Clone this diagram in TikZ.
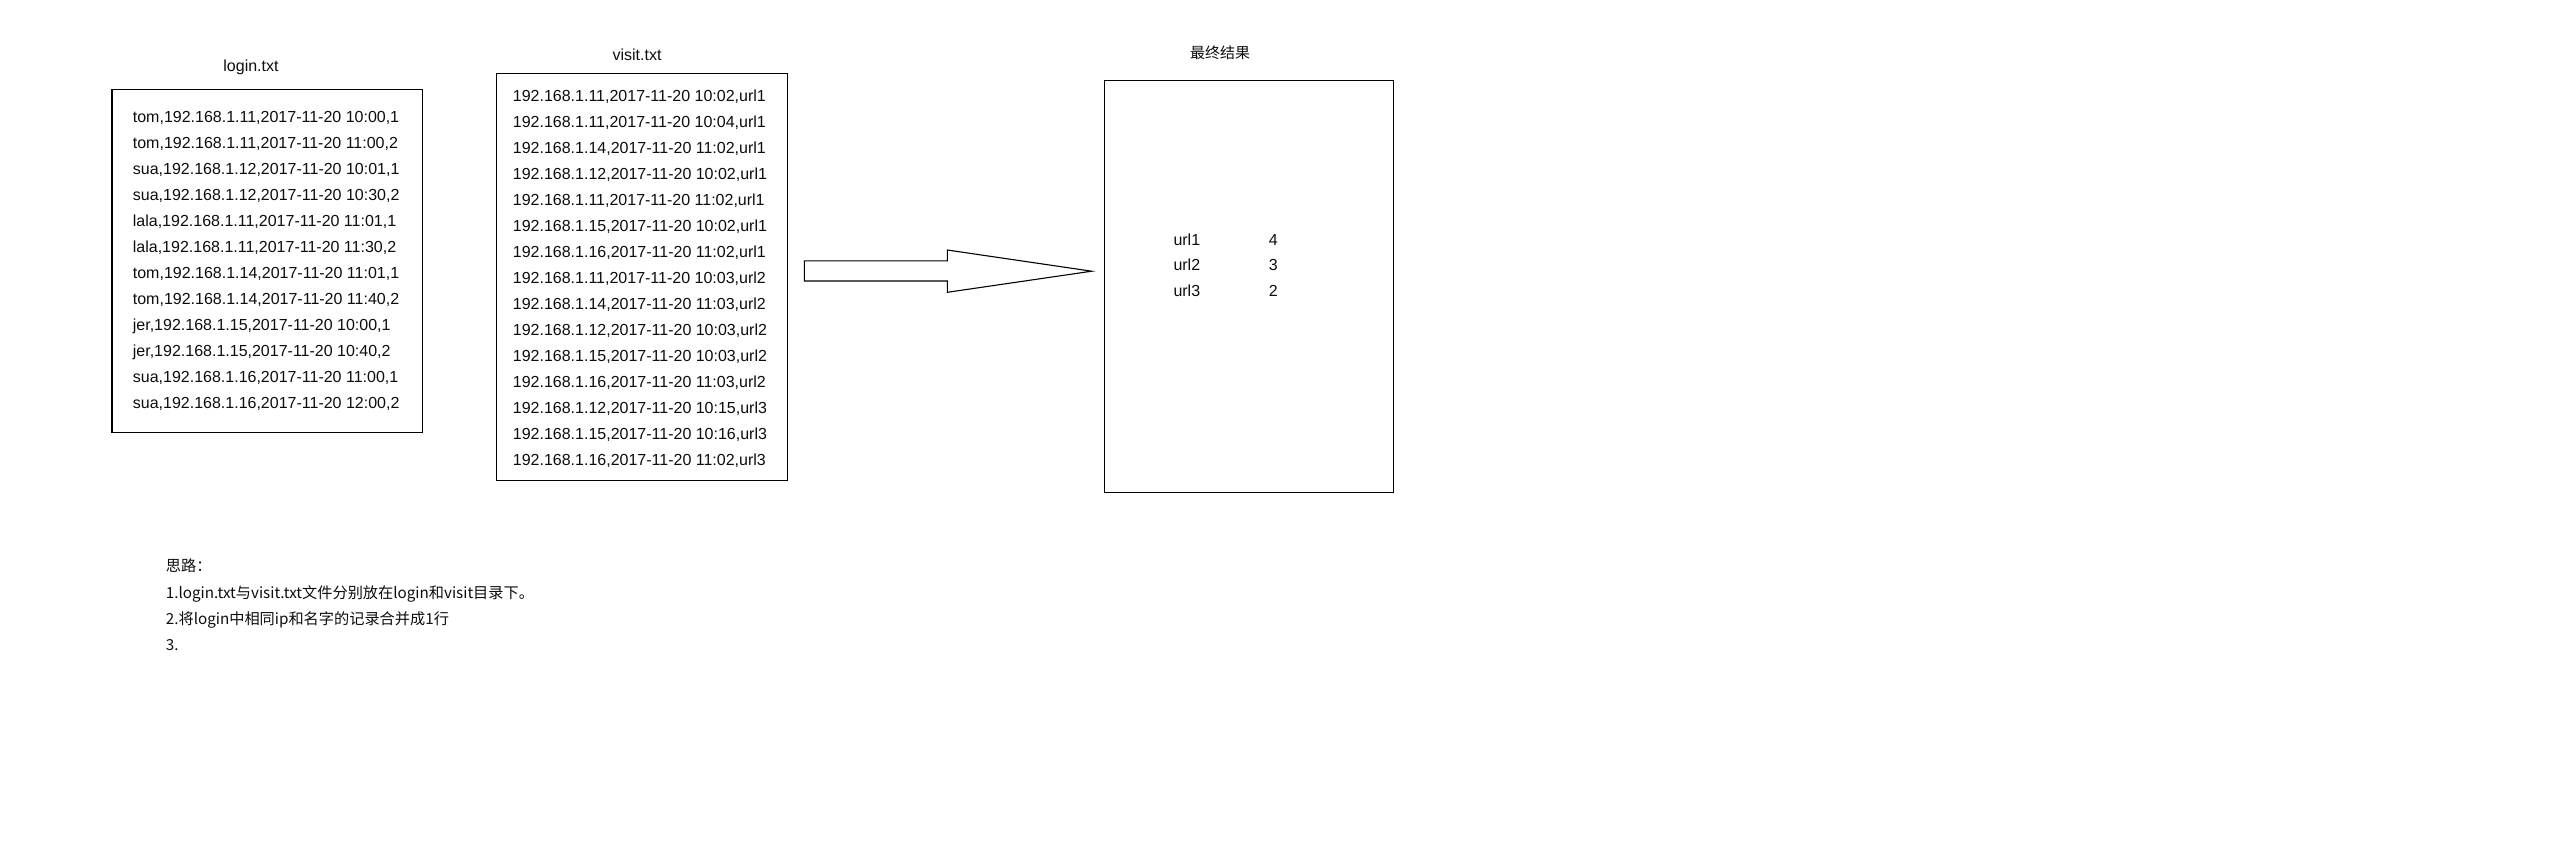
\documentclass[tikz,border=0pt]{standalone}
\usepackage{fontspec}
\setmainfont{Liberation Sans}
\newfontfamily\cjk{Noto Sans CJK SC}
\usepackage{xcolor}
\usepackage{tikz}

\begin{document}
\begin{tikzpicture}[x  = {(1pt,0pt)},
                    y  = {(0pt,-1pt)},
                    scale = 1,
                    color = {black}]

  \useasboundingbox (0, 0) rectangle (2556, 855);


  % DEF POINTS
  \coordinate (v0_login) at (112, 89.3);
  \coordinate (v1_login) at (422.3, 432.3);
  \coordinate (v0_visit) at (496.5, 73.3);
  \coordinate (v1_visit) at (787.3, 480.3);
  \coordinate (v0_result) at (1104.3, 80.7);
  \coordinate (v1_result) at (1393.3, 492.3);

  \coordinate (v0_arrow) at (804.3, 260.8);
  \coordinate (v1_arrow) at (947.3, 260.8);
  \coordinate (v2_arrow) at (947.3, 250);
  \coordinate (v3_arrow) at (1091.7, 271.2);
  \coordinate (v4_arrow) at (947.3, 292.3);
  \coordinate (v5_arrow) at (947.3, 281);
  \coordinate (v6_arrow) at (804.3, 281);


  % EDGES STYLE
  \definecolor{edgecolor_box}{rgb}{ 0,0,0 }
  \definecolor{textcolor_box}{rgb}{ 0.05,0.05,0.05 }
  \tikzstyle{boxstyle} = [fill=white, draw=edgecolor_box, line width=1.1pt, line join=miter]
  \tikzstyle{linestyle} = [anchor=west, inner sep=0pt, text=textcolor_box, text height=11.5pt, text depth=0pt, font=\fontsize{16}{19}\selectfont]
  \tikzstyle{titlestyle} = [anchor=center, inner sep=0pt, text=textcolor_box, text height=11.5pt, text depth=0pt, font=\fontsize{16}{19}\selectfont]
  \tikzstyle{notestyle} = [anchor=west, inner sep=0pt, text=textcolor_box, text height=11.5pt, text depth=0pt, font=\cjk\fontsize{15.2}{19}\selectfont]


  % BOXES
  \draw[boxstyle] (v0_login) rectangle (v1_login);
  \draw[boxstyle] (v0_visit) rectangle (v1_visit);
  \draw[boxstyle] (v0_result) rectangle (v1_result);


  % ARROW
  \draw[boxstyle] (v0_arrow) -- (v1_arrow) -- (v2_arrow) -- (v3_arrow) -- (v4_arrow) -- (v5_arrow) -- (v6_arrow) -- cycle;


  % TITLES
  \node[titlestyle] (title_login) at (251, 66) {login.txt};
  \node[titlestyle] (title_visit) at (637, 54.3) {visit.txt};
  \node[titlestyle, font=\cjk\fontsize{15}{18}\selectfont] (title_result) at (1220, 52.5) {最终结果};


  %POINTS login
  \node[linestyle] (t0_login) at (132.7, 117.2) {tom,192.168.1.11,2017-11-20 10:00,1};
  \node[linestyle] (t1_login) at (132.7, 143.2) {tom,192.168.1.11,2017-11-20 11:00,2};
  \node[linestyle] (t2_login) at (132.7, 169.2) {sua,192.168.1.12,2017-11-20 10:01,1};
  \node[linestyle] (t3_login) at (132.7, 195.2) {sua,192.168.1.12,2017-11-20 10:30,2};
  \node[linestyle] (t4_login) at (132.7, 221.2) {lala,192.168.1.11,2017-11-20 11:01,1};
  \node[linestyle] (t5_login) at (132.7, 247.2) {lala,192.168.1.11,2017-11-20 11:30,2};
  \node[linestyle] (t6_login) at (132.7, 273.2) {tom,192.168.1.14,2017-11-20 11:01,1};
  \node[linestyle] (t7_login) at (132.7, 299.2) {tom,192.168.1.14,2017-11-20 11:40,2};
  \node[linestyle] (t8_login) at (132.7, 325.2) {jer,192.168.1.15,2017-11-20 10:00,1};
  \node[linestyle] (t9_login) at (132.7, 351.2) {jer,192.168.1.15,2017-11-20 10:40,2};
  \node[linestyle] (t10_login) at (132.7, 377.2) {sua,192.168.1.16,2017-11-20 11:00,1};
  \node[linestyle] (t11_login) at (132.7, 403.2) {sua,192.168.1.16,2017-11-20 12:00,2};


  %POINTS visit
  \node[linestyle] (t0_visit) at (512.7, 95.5) {192.168.1.11,2017-11-20 10:02,url1};
  \node[linestyle] (t1_visit) at (512.7, 121.5) {192.168.1.11,2017-11-20 10:04,url1};
  \node[linestyle] (t2_visit) at (512.7, 147.5) {192.168.1.14,2017-11-20 11:02,url1};
  \node[linestyle] (t3_visit) at (512.7, 173.5) {192.168.1.12,2017-11-20 10:02,url1};
  \node[linestyle] (t4_visit) at (512.7, 199.5) {192.168.1.11,2017-11-20 11:02,url1};
  \node[linestyle] (t5_visit) at (512.7, 225.5) {192.168.1.15,2017-11-20 10:02,url1};
  \node[linestyle] (t6_visit) at (512.7, 251.5) {192.168.1.16,2017-11-20 11:02,url1};
  \node[linestyle] (t7_visit) at (512.7, 277.5) {192.168.1.11,2017-11-20 10:03,url2};
  \node[linestyle] (t8_visit) at (512.7, 303.5) {192.168.1.14,2017-11-20 11:03,url2};
  \node[linestyle] (t9_visit) at (512.7, 329.5) {192.168.1.12,2017-11-20 10:03,url2};
  \node[linestyle] (t10_visit) at (512.7, 355.5) {192.168.1.15,2017-11-20 10:03,url2};
  \node[linestyle] (t11_visit) at (512.7, 381.5) {192.168.1.16,2017-11-20 11:03,url2};
  \node[linestyle] (t12_visit) at (512.7, 407.5) {192.168.1.12,2017-11-20 10:15,url3};
  \node[linestyle] (t13_visit) at (512.7, 433.5) {192.168.1.15,2017-11-20 10:16,url3};
  \node[linestyle] (t14_visit) at (512.7, 459.5) {192.168.1.16,2017-11-20 11:02,url3};


  %POINTS result
  \node[linestyle] (t0_result) at (1173.3, 239.3) {url1};
  \node[linestyle] (t1_result) at (1173.3, 265) {url2};
  \node[linestyle] (t2_result) at (1173.3, 290.7) {url3};
  \node[titlestyle] (n0_result) at (1273.3, 239.3) {4};
  \node[titlestyle] (n1_result) at (1273.3, 265) {3};
  \node[titlestyle] (n2_result) at (1273.3, 290.7) {2};


  %POINTS notes
  \node[notestyle] (t0_note) at (165.7, 566) {思路：};
  \node[notestyle] (t1_note) at (165.7, 592.3) {1.login.txt与visit.txt文件分别放在login和visit目录下。};
  \node[notestyle] (t2_note) at (165.7, 618.3) {2.将login中相同ip和名字的记录合并成1行};
  \node[notestyle] (t3_note) at (165.7, 644.5) {3.};

\end{tikzpicture}
\end{document}
